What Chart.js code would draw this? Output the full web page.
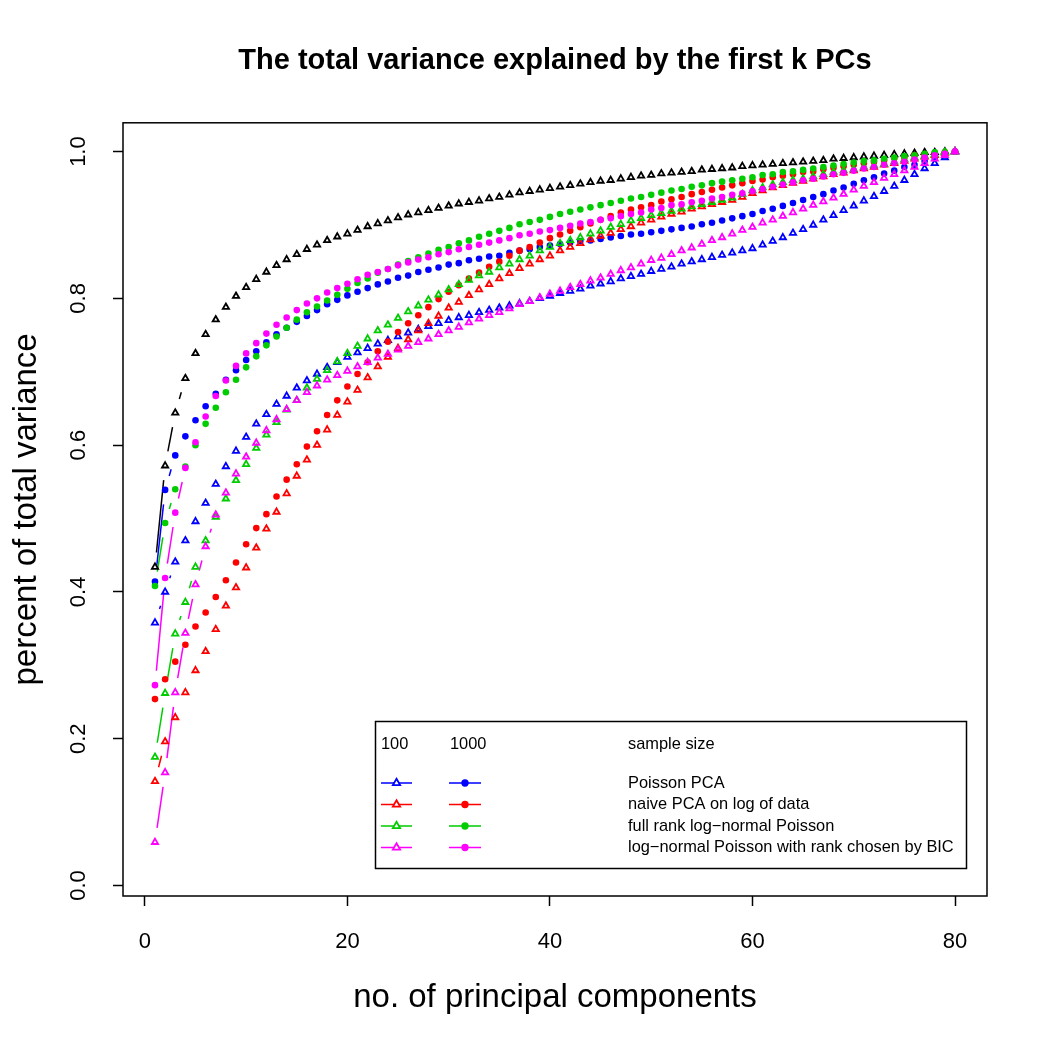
<!DOCTYPE html>
<html>
<head>
<meta charset="utf-8">
<title>The total variance explained by the first k PCs</title>
<script src="https://cdn.jsdelivr.net/npm/chart.js@4.4.1/dist/chart.umd.min.js"></script>
<style>
    html, body { margin: 0; padding: 0; background: #fff; }
    #pcChart { display: block; }
</style>
</head>
<body>
<canvas id="pcChart" width="1050" height="1050"></canvas>
<script>
// ═══════════════════════════════════════════════════════════════
// DATA
// ═══════════════════════════════════════════════════════════════

var components = Array.from({ length: 80 }, function (_, i) { return i + 1; });
var xTicks = [0, 20, 40, 60, 80];
var yTicks = [0, 0.2, 0.4, 0.6, 0.8, 1.0];

// black triangles (no legend entry)
var trueVar = [
    .434, .572, .644, .691, .725, .751, .771, .788, .803, .815,
    .826, .836, .845, .853, .860, .867, .873, .879, .884, .888,
    .893, .898, .902, .906, .910, .914, .917, .920, .923, .926,
    .929, .931, .933, .936, .938, .941, .944, .946, .948, .950,
    .952, .954, .956, .958, .960, .961, .963, .965, .967, .968,
    .970, .971, .972, .973, .975, .976, .977, .978, .980, .981,
    .982, .983, .984, .985, .986, .987, .988, .990, .991, .992,
    .993, .994, .995, .996, .997, .998, .999, .999, 1.0, 1.0
];

// Poisson PCA
var poisson100 = [
    .358, .400, .441, .470, .496, .521, .547, .571, .592, .611,
    .629, .642, .656, .667, .678, .688, .697, .706, .713, .720,
    .726, .732, .738, .743, .748, .753, .758, .762, .766, .770,
    .774, .777, .781, .784, .787, .790, .793, .796, .800, .803,
    .807, .810, .813, .817, .820, .823, .827, .830, .833, .837,
    .840, .843, .847, .850, .853, .856, .859, .862, .865, .868,
    .873, .878, .883, .889, .894, .900, .907, .913, .920, .926,
    .933, .939, .946, .953, .961, .969, .977, .984, .992, 1.0
];
var poisson1000 = [
    .414, .539, .586, .612, .634, .653, .670, .689, .702, .716,
    .728, .740, .751, .760, .768, .776, .784, .792, .798, .804,
    .809, .814, .819, .823, .828, .831, .836, .839, .842, .846,
    .848, .852, .854, .857, .858, .862, .865, .867, .870, .872,
    .874, .876, .878, .879, .881, .883, .885, .887, .888, .890,
    .892, .894, .896, .898, .901, .903, .906, .909, .912, .915,
    .919, .922, .926, .930, .934, .938, .942, .947, .951, .956,
    .961, .965, .970, .974, .979, .982, .987, .992, .995, 1.0
];

// naive PCA on log of data
var naive100 = [
    .142, .196, .229, .263, .293, .319, .349, .381, .406, .433,
    .460, .486, .509, .534, .558, .580, .600, .621, .641, .659,
    .675, .692, .707, .720, .732, .744, .756, .766, .776, .787,
    .795, .804, .812, .819, .827, .834, .841, .847, .853, .858,
    .865, .870, .875, .880, .885, .889, .894, .898, .903, .907,
    .911, .915, .918, .922, .925, .928, .931, .934, .938, .943,
    .947, .951, .954, .957, .960, .963, .966, .969, .971, .974,
    .977, .979, .982, .984, .987, .990, .993, .995, .998, 1.0
];
var naive1000 = [
    .254, .281, .305, .328, .353, .372, .393, .416, .440, .465,
    .487, .506, .530, .553, .574, .598, .619, .641, .661, .680,
    .697, .713, .728, .741, .754, .766, .777, .788, .799, .809,
    .818, .827, .835, .843, .850, .858, .865, .870, .876, .882,
    .887, .892, .897, .902, .907, .912, .917, .921, .924, .927,
    .932, .935, .938, .942, .945, .948, .951, .954, .957, .960,
    .962, .965, .967, .969, .972, .973, .976, .978, .980, .982,
    .984, .986, .988, .991, .992, .995, .996, .998, .999, 1.0
];

// full rank log-normal Poisson
var fullRank100 = [
    .175, .262, .343, .386, .434, .470, .502, .527, .552, .574,
    .596, .614, .631, .648, .661, .678, .690, .702, .714, .725,
    .735, .745, .756, .764, .773, .782, .790, .798, .805, .812,
    .819, .825, .831, .836, .842, .847, .853, .858, .865, .870,
    .875, .879, .883, .888, .892, .897, .901, .906, .909, .913,
    .916, .919, .922, .925, .928, .931, .934, .937, .942, .947,
    .951, .955, .958, .961, .963, .966, .969, .972, .974, .976,
    .979, .981, .983, .986, .989, .992, .994, .996, .999, 1.0
];
var fullRank1000 = [
    .408, .494, .540, .571, .600, .629, .651, .672, .689, .706,
    .721, .736, .748, .760, .771, .781, .789, .797, .805, .813,
    .821, .827, .835, .840, .846, .851, .856, .861, .866, .870,
    .875, .879, .884, .888, .892, .896, .901, .904, .907, .911,
    .915, .918, .921, .924, .927, .930, .933, .936, .938, .941,
    .944, .947, .949, .952, .954, .957, .959, .961, .963, .965,
    .968, .969, .972, .973, .975, .977, .979, .981, .983, .985,
    .987, .988, .990, .992, .994, .995, .997, .999, .999, 1.0
];

// log-normal Poisson with rank chosen by BIC
var bic100 = [
    .059, .154, .263, .344, .410, .462, .505, .535, .561, .584,
    .603, .620, .635, .649, .661, .672, .681, .689, .695, .701,
    .707, .713, .719, .724, .730, .735, .740, .745, .751, .756,
    .761, .767, .772, .777, .781, .786, .792, .796, .801, .806,
    .810, .815, .819, .824, .828, .833, .838, .842, .847, .852,
    .855, .860, .865, .869, .874, .879, .883, .888, .893, .897,
    .903, .907, .912, .917, .922, .927, .932, .937, .942, .948,
    .953, .958, .964, .969, .974, .979, .984, .990, .995, 1.0
];
var bic1000 = [
    .273, .419, .508, .569, .604, .639, .667, .688, .708, .725,
    .739, .752, .764, .774, .784, .793, .800, .808, .814, .820,
    .826, .832, .836, .840, .845, .849, .853, .856, .860, .863,
    .867, .870, .873, .876, .879, .882, .886, .888, .891, .893,
    .896, .899, .902, .904, .907, .909, .912, .915, .917, .921,
    .923, .927, .928, .931, .933, .936, .938, .941, .943, .946,
    .949, .952, .955, .958, .961, .963, .966, .969, .971, .974,
    .977, .979, .982, .984, .986, .989, .992, .995, .997, 1.0
];

var methodNames  = ['Poisson PCA', 'naive PCA on log of data',
                    'full rank log\u2212normal Poisson',
                    'log\u2212normal Poisson with rank chosen by BIC'];
var methodColors = ['#0000ff', '#ff0000', '#00cd00', '#ff00ff'];
var sampleSizes  = ['100', '1000'];

// ═══════════════════════════════════════════════════════════════
// STYLE
// ═══════════════════════════════════════════════════════════════

var FONT    = '"Liberation Sans", Arial, Helvetica, sans-serif';
var segGap  = 14.5;   // R type="b": gap left around each point
var lineW   = 1.5;
var triR    = 3.6;
var triW    = 1.8;
var dotR    = 3.3;

Chart.defaults.font.family = FONT;
Chart.defaults.color = '#000';

function series(values, color, marker, order) {
    var tri = marker === 'tri';
    return {
        data: components.map(function (k, i) { return { x: k, y: values[i] }; }),
        borderColor: color,
        backgroundColor: tri ? 'rgba(0,0,0,0)' : color,
        pointStyle: tri ? 'triangle' : 'circle',
        pointRadius: tri ? triR : dotR,
        pointBorderWidth: tri ? triW : 0,
        showLine: false,
        order: order
    };
}

// bottom first
var datasets = [
    series(trueVar,      '#000000', 'tri', 9),
    series(poisson100,   methodColors[0], 'tri', 8),
    series(poisson1000,  methodColors[0], 'dot', 7),
    series(naive100,     methodColors[1], 'tri', 6),
    series(naive1000,    methodColors[1], 'dot', 5),
    series(fullRank100,  methodColors[2], 'tri', 4),
    series(fullRank1000, methodColors[2], 'dot', 3),
    series(bic100,       methodColors[3], 'tri', 2),
    series(bic1000,      methodColors[3], 'dot', 1)
];

// ═══════════════════════════════════════════════════════════════
// PLUGINS
// ═══════════════════════════════════════════════════════════════

// line pieces between points, cut back by segGap at each end
var gapLines = {
    id: 'gapLines',
    beforeDatasetsDraw: function (chart) {
        var ctx = chart.ctx, a = chart.chartArea;
        ctx.save();
        ctx.beginPath();
        ctx.rect(a.left, a.top, a.right - a.left, a.bottom - a.top);
        ctx.clip();
        ctx.lineWidth = lineW;
        chart.data.datasets.forEach(function (ds, i) {
            var pts = chart.getDatasetMeta(i).data;
            ctx.strokeStyle = ds.borderColor;
            for (var j = 0; j < pts.length - 1; j++) {
                var dx = pts[j + 1].x - pts[j].x;
                var dy = pts[j + 1].y - pts[j].y;
                var d = Math.hypot(dx, dy);
                if (d <= 2 * segGap) continue;
                var f = segGap / d;
                ctx.beginPath();
                ctx.moveTo(pts[j].x + f * dx, pts[j].y + f * dy);
                ctx.lineTo(pts[j + 1].x - f * dx, pts[j + 1].y - f * dy);
                ctx.stroke();
            }
        });
        ctx.restore();
    }
};

var boxAndLegend = {
    id: 'boxAndLegend',
    afterDraw: function (chart) {
        var ctx = chart.ctx, a = chart.chartArea;
        ctx.save();
        ctx.strokeStyle = '#000';
        ctx.lineWidth = lineW;
        ctx.strokeRect(a.left, a.top, a.right - a.left, a.bottom - a.top);

        // legend box
        ctx.strokeRect(375.5, 721.5, 591, 147);
        ctx.fillStyle = '#000';
        ctx.font = '16.4px ' + FONT;
        ctx.textBaseline = 'middle';
        ctx.textAlign = 'left';
        ctx.fillText(sampleSizes[0], 381, 744);
        ctx.fillText(sampleSizes[1], 450, 744);
        ctx.fillText('sample size', 628, 744);

        var rowY = [783, 804.5, 826, 847.5];
        methodNames.forEach(function (name, i) {
            var y = rowY[i], c = methodColors[i];
            ctx.strokeStyle = c;
            ctx.lineWidth = lineW;
            ctx.beginPath();
            ctx.moveTo(381, y); ctx.lineTo(412, y);
            ctx.moveTo(449, y); ctx.lineTo(481, y);
            ctx.stroke();
            ctx.fillStyle = '#fff';
            ctx.lineWidth = triW;
            Chart.helpers.drawPoint(ctx, { pointStyle: 'triangle', radius: triR + 0.6, rotation: 0, borderWidth: triW }, 396.5, y);
            ctx.fillStyle = c;
            Chart.helpers.drawPoint(ctx, { pointStyle: 'circle', radius: dotR + 0.4, rotation: 0, borderWidth: 0 }, 465, y);
            ctx.fillStyle = '#000';
            ctx.fillText(name, 628, y);
        });
        ctx.restore();
    }
};

// ═══════════════════════════════════════════════════════════════
// CHART
// ═══════════════════════════════════════════════════════════════

var ctx = document.getElementById('pcChart').getContext('2d');

var pcChart = new Chart(ctx, {
    type: 'scatter',
    data: { datasets: datasets },
    plugins: [gapLines, boxAndLegend],
    options: {
        responsive: false,
        animation: false,
        events: [],
        layout: { padding: { left: 0, right: 63, top: 0, bottom: 0 } },
        plugins: {
            legend:  { display: false },
            tooltip: { enabled: false },
            title: {
                display: true,
                text: 'The total variance explained by the first k PCs',
                fullSize: false,
                color: '#000',
                font: { size: 29, weight: 'bold' },
                padding: { top: 44, bottom: 44 }
            }
        },
        scales: {
            x: {
                type: 'linear',
                min: -2.16, max: 83.16,
                afterBuildTicks: function (s) { s.ticks = xTicks.map(function (v) { return { value: v }; }); },
                afterFit: function (s) { s.height = 154; },
                border: { display: false },
                grid:  { drawOnChartArea: false, drawTicks: true, tickLength: 10, tickWidth: lineW, tickColor: '#000' },
                ticks: { color: '#000', font: { size: 22 }, padding: 23, maxRotation: 0, autoSkip: false },
                title: {
                    display: true, text: 'no. of principal components',
                    color: '#000', font: { size: 33 }, padding: { top: 0, bottom: 32 }
                }
            },
            y: {
                type: 'linear',
                min: -0.0143, max: 1.0392,
                afterBuildTicks: function (s) { s.ticks = yTicks.map(function (v) { return { value: v }; }); },
                afterFit: function (s) { s.width = 123; },
                border: { display: false },
                grid:  { drawOnChartArea: false, drawTicks: true, tickLength: 10, tickWidth: lineW, tickColor: '#000' },
                ticks: {
                    color: '#000', font: { size: 22 }, padding: 19,
                    minRotation: 90, maxRotation: 90, crossAlign: 'center', autoSkip: false,
                    callback: function (v) { return v.toFixed(1); }
                },
                title: {
                    display: true, text: 'percent of total variance',
                    color: '#000', font: { size: 33 }, padding: { top: 7, bottom: 0 }
                }
            }
        }
    }
});
</script>
</body>
</html>
